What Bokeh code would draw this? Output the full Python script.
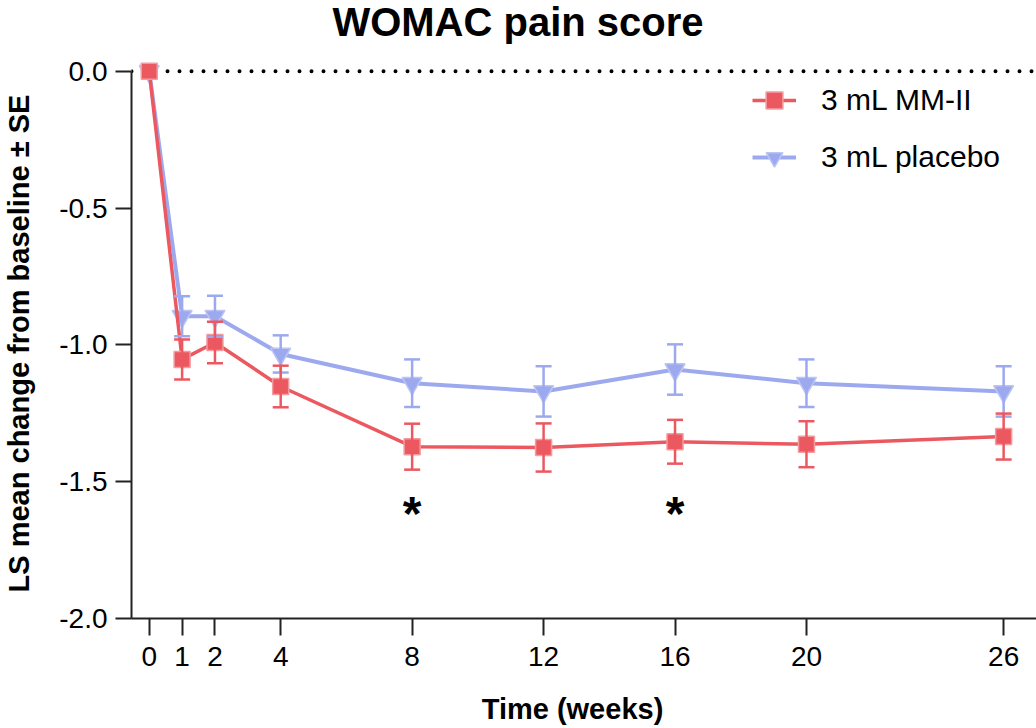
from bokeh.plotting import figure
from bokeh.models import (Range1d, FixedTicker, Span, Whisker, TeeHead, ColumnDataSource,
                          Legend, LegendItem, Label, LinearAxis, PrintfTickFormatter)
from bokeh.core.properties import value
from bokeh.embed import file_html
from bokeh.resources import INLINE

# Study visits (weeks) and LS mean change from baseline with standard errors
weeks = [0, 1, 2, 4, 8, 12, 16, 20, 26]
mm_mean = [0.0, -1.053, -0.991, -1.152, -1.372, -1.375, -1.354, -1.363, -1.335]
mm_se = [0.0, 0.073, 0.076, 0.076, 0.084, 0.088, 0.080, 0.084, 0.084]
placebo_mean = [0.0, -0.895, -0.895, -1.033, -1.140, -1.170, -1.090, -1.140, -1.170]
placebo_se = [0.0, 0.073, 0.075, 0.068, 0.087, 0.092, 0.092, 0.087, 0.092]

# Visits with a significant between-group difference
star_weeks = [8, 16]
star_level = [-1.615, -1.615]

x_ticks = [0, 1, 2, 4, 8, 12, 16, 20, 26]
y_ticks = [-2.0, -1.5, -1.0, -0.5, 0.0]

RED = "#EC5860"
RED_EDGE = "#F29CA0"
BLUE = "#9DA9EE"
BLUE_EDGE = "#BCC5F4"
FONT = "Liberation Sans"

# Where the axis titles are centred (in data units)
XTITLE_AT = 12.88
YTITLE_AT = -0.995


def make_source(mean):
    return ColumnDataSource(dict(x=list(weeks), y=list(mean)))


def err_source(mean, se):
    rows = [(w, m, s) for w, m, s in zip(weeks, mean, se) if s > 0]
    return ColumnDataSource(dict(
        x=[r[0] for r in rows],
        upper=[r[1] + r[2] for r in rows],
        lower=[r[1] - r[2] for r in rows],
    ))


# The frame reaches the top of the canvas so the chart title can sit inside it;
# the y axis itself is bounded to the -2..0 scale.
p = figure(width=1036, height=728, output_backend="svg", toolbar_location=None,
           title=None,
           x_range=Range1d(-0.54, 27.0), y_range=Range1d(-2.0, 0.2588),
           min_border_left=130, min_border_right=0, min_border_top=0, min_border_bottom=110)
p.outline_line_color = None
p.grid.grid_line_color = None
p.background_fill_color = "white"
p.border_fill_color = "white"

# Axes
for ax in (p.xaxis[0], p.yaxis[0]):
    ax.axis_line_width = 2
    ax.axis_line_color = "#222222"
    ax.major_tick_line_width = 2
    ax.major_tick_line_color = "#222222"
    ax.major_tick_in = 0
    ax.minor_tick_line_color = None
    ax.major_label_text_font = FONT
    ax.major_label_text_font_size = "28px"
    ax.major_label_text_color = "black"

p.xaxis.ticker = FixedTicker(ticks=x_ticks)
p.xaxis.major_tick_out = 17
p.xaxis.major_label_standoff = 11
p.yaxis.ticker = FixedTicker(ticks=y_ticks)
p.yaxis.formatter = PrintfTickFormatter(format="%.1f")
p.yaxis.major_tick_out = 16
p.yaxis.major_label_standoff = 8
p.yaxis.bounds = (-2.0, 0.0)


def title_axis(at, text, standoff, **kw):
    # a bare axis whose only label is the axis title
    return LinearAxis(ticker=FixedTicker(ticks=[at]),
                      major_label_overrides={at: text},
                      axis_line_color=None, major_tick_line_color=None,
                      minor_tick_line_color=None, major_tick_in=0, major_tick_out=0,
                      major_label_standoff=standoff, major_label_text_font=FONT,
                      major_label_text_font_size="29px",
                      major_label_text_font_style="bold",
                      major_label_text_color="black", **kw)


p.add_layout(title_axis(XTITLE_AT, "Time (weeks)", 24), "below")
p.add_layout(title_axis(YTITLE_AT, "LS mean change from baseline \u00b1 SE", 21,
                        major_label_orientation="vertical"), "left")

# Chart title
p.add_layout(Label(x=386.5, y=597, x_units="screen", y_units="screen",
                   text="WOMAC pain score", text_font=FONT, text_font_size="40px",
                   text_font_style="bold", text_color="black",
                   text_align="center", text_baseline="alphabetic"))

# Dotted reference line at zero change
zero = Span(location=0, dimension="width", line_color="black", line_width=4,
            line_dash="0 12", line_cap="round", level="underlay")
p.add_layout(zero)

mm_src = make_source(mm_mean)
pl_src = make_source(placebo_mean)

# Error bars
for mean, se, col in ((placebo_mean, placebo_se, BLUE), (mm_mean, mm_se, RED)):
    w = Whisker(base="x", upper="upper", lower="lower", source=err_source(mean, se),
                line_color=col, line_width=2.5, level="glyph",
                upper_head=TeeHead(size=16, line_color=col, line_width=2.5),
                lower_head=TeeHead(size=16, line_color=col, line_width=2.5))
    p.add_layout(w)

# Placebo series
pl_line = p.line("x", "y", source=pl_src, line_color=BLUE, line_width=4)
pl_pts = p.scatter("x", "y", source=pl_src, marker="inverted_triangle", size=20,
                   fill_color=BLUE, line_color=BLUE_EDGE, line_width=1.5)

# MM-II series
mm_line = p.line("x", "y", source=mm_src, line_color=RED, line_width=3.5)
mm_pts = p.scatter("x", "y", source=mm_src, marker="square", size=16,
                   fill_color=RED, line_color=RED_EDGE, line_width=1.5)

# Significance markers
p.text(x=star_weeks, y=star_level, text=["*"] * len(star_weeks),
       text_font=value(FONT), text_font_size="48px", text_font_style="bold",
       text_color="black", text_align="center", text_baseline="alphabetic")

legend = Legend(items=[
    LegendItem(label="3 mL MM-II", renderers=[mm_line, mm_pts]),
    LegendItem(label="3 mL placebo", renderers=[pl_line, pl_pts]),
], location=(621, 440))
legend.border_line_color = None
legend.background_fill_alpha = 0
legend.padding = 0
legend.margin = 0
legend.glyph_width = 44
legend.glyph_height = 42
legend.label_height = 42
legend.spacing = 15
legend.label_standoff = 25
legend.label_text_font = FONT
legend.label_text_font_size = "30px"
legend.label_text_color = "black"
legend.label_text_baseline = "middle"
p.add_layout(legend)

open("out.html", "w").write(file_html(p, INLINE))
